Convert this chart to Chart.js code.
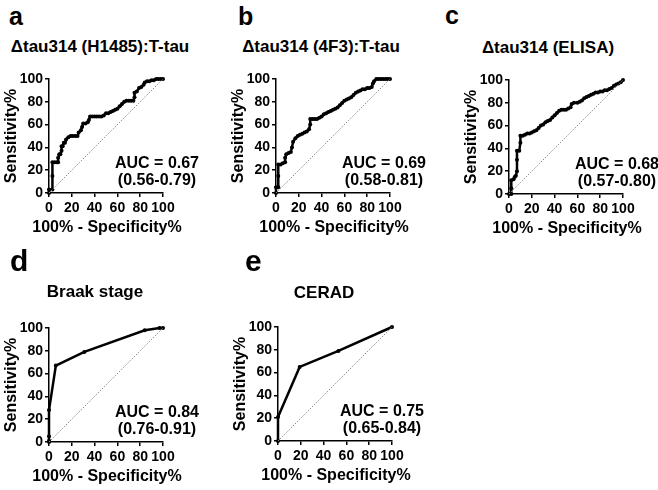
<!DOCTYPE html>
<html>
<head>
<meta charset="utf-8">
<script src="https://cdn.jsdelivr.net/npm/chart.js@4.4.1/dist/chart.umd.min.js"></script>
<style>
  body { margin: 0; background: #fff; }
  #fig { position: relative; width: 658px; height: 490px; overflow: hidden; background: #fff;
         font-family: "Liberation Sans", Arial, sans-serif; color: #000; }
  #fig canvas { position: absolute; }
  .letter { position: absolute; font-weight: bold; white-space: nowrap; }
  .title { position: absolute; font-size: 17px; line-height: 17px; font-weight: bold; white-space: nowrap; transform: translateX(-50%); }
  .xtitle { position: absolute; font-size: 16px; line-height: 16px; font-weight: bold; white-space: nowrap; transform: translateX(-50%); }
  .auc { position: absolute; font-size: 16px; line-height: 17px; font-weight: bold; text-align: center; white-space: nowrap; transform: translateX(-50%); }
</style>
</head>
<body>
<div id="fig"></div>
<script>
// ROC points: x = 100% - specificity%, y = sensitivity%
const fprA = [0, 0, 3, 3, 3, 5, 7, 8, 8, 9, 10, 11, 11, 12, 13, 14, 15, 17, 19, 21, 23, 25, 26, 28, 29, 30, 32, 34, 35, 36, 38, 40, 42, 44, 46, 48, 50, 52, 54, 56, 58, 60, 62, 64, 66, 68, 70, 72, 74, 75, 75, 77, 79, 81, 83, 84, 86, 88, 90, 92, 94, 96, 98, 100];
const sensA = [0, 3, 3, 15, 27, 27, 27, 27, 31, 34, 34, 37, 41, 41, 44, 44, 47, 49, 50, 50, 50, 50, 53, 55, 58, 61, 61, 62, 64, 67, 67, 67, 67, 67, 67, 68, 70, 70, 71, 72, 73, 74, 76, 78, 80, 81, 81, 81, 81, 84, 88, 89, 92, 93, 95, 97, 98, 98, 99, 99, 100, 100, 100, 100];

const fprB = [0, 0, 2, 2, 2, 4, 6, 8, 8, 9, 11, 13, 14, 15, 17, 19, 21, 23, 25, 27, 29, 30, 30, 32, 34, 36, 38, 40, 42, 44, 46, 48, 50, 52, 54, 56, 58, 60, 62, 64, 66, 68, 70, 72, 74, 76, 78, 80, 82, 84, 85, 86, 88, 90, 92, 94, 96, 98, 100];
const sensB = [0, 5, 5, 15, 25, 25, 26, 27, 31, 34, 35, 36, 40, 45, 48, 50, 51, 52, 53, 54, 56, 60, 65, 65, 65, 65, 66, 67, 69, 70, 71, 72, 73, 74, 75, 77, 79, 81, 82, 83, 84, 86, 88, 89, 90, 91, 91, 92, 92, 93, 96, 98, 100, 100, 100, 100, 100, 100, 100];

const fprC = [0, 2, 2, 2, 4, 5, 6, 7, 7, 7, 9, 10, 10, 12, 14, 16, 18, 20, 22, 24, 26, 28, 30, 32, 34, 36, 38, 40, 42, 44, 46, 48, 50, 52, 54, 55, 57, 60, 62, 64, 66, 68, 70, 72, 74, 76, 78, 80, 82, 84, 86, 88, 90, 92, 94, 96, 98, 100];
const sensC = [0, 0, 5, 12, 13, 15, 16, 20, 30, 38, 38, 45, 51, 51, 52, 53, 53, 54, 55, 56, 58, 60, 61, 63, 64, 65, 67, 69, 71, 73, 74, 74, 74, 75, 76, 79, 80, 80, 81, 82, 84, 85, 86, 87, 88, 89, 89, 90, 90, 91, 91, 92, 93, 95, 96, 97, 98, 100];

const fprD = [0, 0, 0, 0, 6, 31, 84, 97, 100];
const sensD = [0, 1, 5, 28, 67, 79, 98, 100, 100];

const fprE = [0, 0, 19, 53, 100];
const sensE = [0, 21, 65, 79, 100];

const tickValues = [0, 20, 40, 60, 80, 100];
const panelLetters = ['a', 'b', 'c', 'd', 'e'];
const panelTitles = ['\u0394tau314 (H1485):T-tau', '\u0394tau314 (4F3):T-tau', '\u0394tau314 (ELISA)', 'Braak stage', 'CERAD'];
const aucLabels = ['AUC = 0.67', 'AUC = 0.69', 'AUC = 0.68', 'AUC = 0.84', 'AUC = 0.75'];
const ciLabels = ['(0.56-0.79)', '(0.58-0.81)', '(0.57-0.80)', '(0.76-0.91)', '(0.65-0.84)'];

document.addEventListener('DOMContentLoaded', function() {
    const fig = document.getElementById('fig');
    const W = 200, H = 180;
    Chart.defaults.font.family = '"Liberation Sans", Arial, sans-serif';

    // canvas placement + overlay text placement for each panel
    const panels = [
        { x: fprA, y: sensA, left: 0,   top: 60,  letter: [9, 4, 25],    titleX: 100, titleTop: 38 },
        { x: fprB, y: sensB, left: 227, top: 60,  letter: [238, 4, 25],  titleX: 321, titleTop: 38 },
        { x: fprC, y: sensC, left: 460, top: 61,  letter: [445, 3, 25],  titleX: 548, titleTop: 39 },
        { x: fprD, y: sensD, left: 0,   top: 309, letter: [10, 246, 30], titleX: 95,  titleTop: 283 },
        { x: fprE, y: sensE, left: 229, top: 308, letter: [245, 246, 30], titleX: 324, titleTop: 284 }
    ];

    function addText(cls, text, left, top) {
        const el = document.createElement('div');
        el.className = cls;
        el.style.left = left + 'px';
        el.style.top = top + 'px';
        el.innerHTML = text;
        fig.appendChild(el);
        return el;
    }

    panels.forEach(function(p, i) {
        const canvas = document.createElement('canvas');
        canvas.width = W;
        canvas.height = H;
        canvas.style.left = p.left + 'px';
        canvas.style.top = p.top + 'px';
        fig.appendChild(canvas);

        const letter = addText('letter', panelLetters[i], p.letter[0], p.letter[1]);
        letter.style.fontSize = p.letter[2] + 'px';
        letter.style.lineHeight = p.letter[2] + 'px';
        addText('title', panelTitles[i], p.titleX, p.titleTop);

        const points = p.x.map((v, k) => ({ x: v, y: p.y[k] }));
        const axisGrid = { drawOnChartArea: false, drawTicks: true, tickLength: 4, color: '#000', lineWidth: 1.5 };
        const axisBorder = { display: true, color: '#000', width: 1.5 };
        const tickFont = { size: 14, weight: 'bold' };

        const chart = new Chart(canvas, {
            type: 'scatter',
            data: {
                datasets: [
                    {
                        data: [{ x: 0, y: 0 }, { x: 100, y: 100 }],
                        showLine: true,
                        borderColor: '#8a8a8a',
                        borderWidth: 1,
                        borderDash: [1.5, 1.5],
                        pointRadius: 0
                    },
                    {
                        data: points,
                        showLine: true,
                        tension: 0,
                        borderColor: '#000',
                        borderWidth: 2.5,
                        pointRadius: 2,
                        pointBackgroundColor: '#000',
                        pointBorderColor: '#000',
                        pointBorderWidth: 0,
                        clip: false
                    }
                ]
            },
            options: {
                responsive: false,
                animation: false,
                layout: { padding: { top: 19, right: 37, bottom: 0, left: 0 } },
                plugins: { legend: { display: false }, tooltip: { enabled: false } },
                scales: {
                    x: {
                        type: 'linear', min: 0, max: 100,
                        afterBuildTicks: function(scale) { scale.ticks = tickValues.map(v => ({ value: v })); },
                        afterFit: function(scale) { scale.height = 47; },
                        ticks: { color: '#000', font: tickFont, padding: 3, maxRotation: 0, autoSkip: false },
                        grid: axisGrid,
                        border: axisBorder
                    },
                    y: {
                        type: 'linear', min: 0, max: 100,
                        afterBuildTicks: function(scale) { scale.ticks = tickValues.map(v => ({ value: v })); },
                        afterFit: function(scale) { scale.width = 49; },
                        ticks: { color: '#000', font: tickFont, padding: 2, autoSkip: false },
                        grid: axisGrid,
                        border: axisBorder,
                        title: { display: true, text: 'Sensitivity%', color: '#000', font: { size: 16, weight: 'bold' }, padding: { top: 2, bottom: 0 } }
                    }
                }
            }
        });

        // x title is wider than the plot, so it goes in an overlay (canvas would squeeze it)
        const area = chart.chartArea;
        addText('xtitle', '100% - Specificity%', p.left + (area.left + area.right) / 2 + 1, p.top + area.bottom + 25.5);

        // AUC label sits in the lower right of the plot area
        addText('auc', aucLabels[i] + '<br>' + ciLabels[i], p.left + area.left + (i === 4 ? 104 : 108), p.top + area.bottom - 39);
    });
});
</script>
</body>
</html>
